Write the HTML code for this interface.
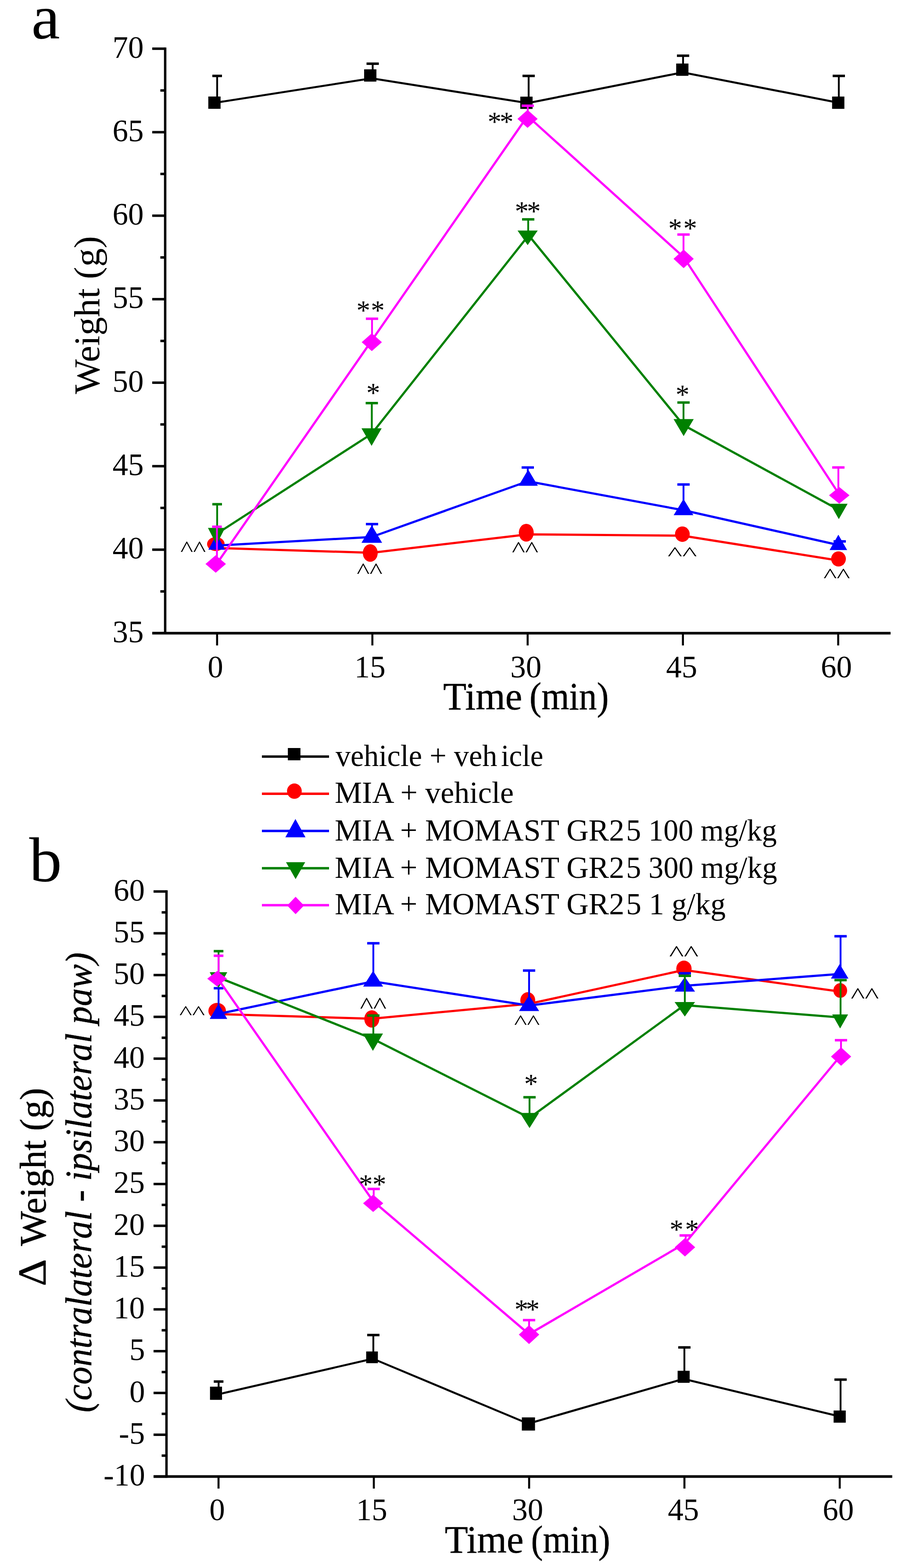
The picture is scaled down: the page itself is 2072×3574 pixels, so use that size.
<!DOCTYPE html>
<html><head><meta charset="utf-8"><title>Weight bearing figure</title>
<style>html,body{margin:0;padding:0;background:#fff;}svg{display:block;}svg{font-family:"Liberation Serif",serif;} text{fill:#000;} text.st{stroke:#000;stroke-width:0.6px;stroke-linejoin:round;}</style>
</head><body>
<svg width="2072" height="3574" viewBox="0 0 2072 3574">
<rect x="0" y="0" width="2072" height="3574" fill="#ffffff"/>
<line x1="376.50" y1="108.30" x2="376.50" y2="1445.90" stroke="#000" stroke-width="5.5" stroke-linecap="butt"/>
<line x1="347.00" y1="1443.20" x2="2030.00" y2="1443.20" stroke="#000" stroke-width="6.0" stroke-linecap="butt"/>
<line x1="347.00" y1="111.00" x2="376.50" y2="111.00" stroke="#000" stroke-width="5.6" stroke-linecap="butt"/>
<line x1="347.00" y1="301.31" x2="376.50" y2="301.31" stroke="#000" stroke-width="5.6" stroke-linecap="butt"/>
<line x1="347.00" y1="491.63" x2="376.50" y2="491.63" stroke="#000" stroke-width="5.6" stroke-linecap="butt"/>
<line x1="347.00" y1="681.94" x2="376.50" y2="681.94" stroke="#000" stroke-width="5.6" stroke-linecap="butt"/>
<line x1="347.00" y1="872.26" x2="376.50" y2="872.26" stroke="#000" stroke-width="5.6" stroke-linecap="butt"/>
<line x1="347.00" y1="1062.57" x2="376.50" y2="1062.57" stroke="#000" stroke-width="5.6" stroke-linecap="butt"/>
<line x1="347.00" y1="1252.89" x2="376.50" y2="1252.89" stroke="#000" stroke-width="5.6" stroke-linecap="butt"/>
<line x1="347.00" y1="1443.20" x2="376.50" y2="1443.20" stroke="#000" stroke-width="5.6" stroke-linecap="butt"/>
<line x1="365.50" y1="206.16" x2="376.50" y2="206.16" stroke="#000" stroke-width="5.6" stroke-linecap="butt"/>
<line x1="365.50" y1="396.47" x2="376.50" y2="396.47" stroke="#000" stroke-width="5.6" stroke-linecap="butt"/>
<line x1="365.50" y1="586.79" x2="376.50" y2="586.79" stroke="#000" stroke-width="5.6" stroke-linecap="butt"/>
<line x1="365.50" y1="777.10" x2="376.50" y2="777.10" stroke="#000" stroke-width="5.6" stroke-linecap="butt"/>
<line x1="365.50" y1="967.41" x2="376.50" y2="967.41" stroke="#000" stroke-width="5.6" stroke-linecap="butt"/>
<line x1="365.50" y1="1157.73" x2="376.50" y2="1157.73" stroke="#000" stroke-width="5.6" stroke-linecap="butt"/>
<line x1="365.50" y1="1348.04" x2="376.50" y2="1348.04" stroke="#000" stroke-width="5.6" stroke-linecap="butt"/>
<line x1="494.85" y1="1443.20" x2="494.85" y2="1471.20" stroke="#000" stroke-width="4.6" stroke-linecap="butt"/>
<line x1="848.79" y1="1443.20" x2="848.79" y2="1471.20" stroke="#000" stroke-width="4.6" stroke-linecap="butt"/>
<line x1="1202.73" y1="1443.20" x2="1202.73" y2="1471.20" stroke="#000" stroke-width="4.6" stroke-linecap="butt"/>
<line x1="1556.67" y1="1443.20" x2="1556.67" y2="1471.20" stroke="#000" stroke-width="4.6" stroke-linecap="butt"/>
<line x1="1910.61" y1="1443.20" x2="1910.61" y2="1471.20" stroke="#000" stroke-width="4.6" stroke-linecap="butt"/>
<text x="256.50" y="131.50" font-size="71">70</text>
<text x="256.50" y="321.81" font-size="71">65</text>
<text x="256.50" y="512.13" font-size="71">60</text>
<text x="256.50" y="702.44" font-size="71">55</text>
<text x="256.50" y="892.76" font-size="71">50</text>
<text x="256.50" y="1083.07" font-size="71">45</text>
<text x="256.50" y="1273.39" font-size="71">40</text>
<text x="256.50" y="1463.70" font-size="71">35</text>
<text x="473.35" y="1543.50" font-size="71">0</text>
<text x="807.79" y="1543.50" font-size="71">15</text>
<text x="1163.23" y="1543.50" font-size="71">30</text>
<text x="1518.17" y="1543.50" font-size="71">45</text>
<text x="1871.11" y="1543.50" font-size="71">60</text>
<polyline points="495.00,233.50 847.00,178.50 1203.00,235.00 1556.00,165.00 1910.50,234.00" fill="none" stroke="#000000" stroke-width="4.6" stroke-linejoin="round"/>
<line x1="495.00" y1="234.00" x2="495.00" y2="173.00" stroke="#000000" stroke-width="4.2" stroke-linecap="butt"/>
<line x1="484.00" y1="173.00" x2="506.00" y2="173.00" stroke="#000000" stroke-width="5.6" stroke-linecap="butt"/>
<line x1="849.50" y1="172.00" x2="849.50" y2="145.20" stroke="#000000" stroke-width="4.2" stroke-linecap="butt"/>
<line x1="835.50" y1="145.20" x2="863.50" y2="145.20" stroke="#000000" stroke-width="5.6" stroke-linecap="butt"/>
<line x1="1205.00" y1="234.30" x2="1205.00" y2="173.00" stroke="#000000" stroke-width="4.2" stroke-linecap="butt"/>
<line x1="1191.00" y1="173.00" x2="1219.00" y2="173.00" stroke="#000000" stroke-width="5.6" stroke-linecap="butt"/>
<line x1="1557.00" y1="158.80" x2="1557.00" y2="127.00" stroke="#000000" stroke-width="4.2" stroke-linecap="butt"/>
<line x1="1543.00" y1="127.00" x2="1571.00" y2="127.00" stroke="#000000" stroke-width="5.6" stroke-linecap="butt"/>
<line x1="1912.00" y1="234.10" x2="1912.00" y2="173.00" stroke="#000000" stroke-width="4.2" stroke-linecap="butt"/>
<line x1="1898.00" y1="173.00" x2="1926.00" y2="173.00" stroke="#000000" stroke-width="5.6" stroke-linecap="butt"/>
<rect x="474.80" y="220.00" width="28" height="28" fill="#000000"/>
<rect x="830.00" y="158.00" width="28" height="28" fill="#000000"/>
<rect x="1186.00" y="220.30" width="28" height="28" fill="#000000"/>
<rect x="1541.30" y="144.80" width="28" height="28" fill="#000000"/>
<rect x="1896.70" y="220.10" width="28" height="28" fill="#000000"/>
<polyline points="495.00,1249.00 847.00,1260.00 1203.00,1218.00 1556.00,1221.00 1911.00,1277.50" fill="none" stroke="#ff0000" stroke-width="5.0" stroke-linejoin="round"/>
<ellipse cx="492.00" cy="1240.00" rx="20" ry="16" fill="#ff0000"/>
<ellipse cx="844.00" cy="1260.50" rx="17" ry="20" fill="#ff0000"/>
<ellipse cx="1199.60" cy="1214.30" rx="17" ry="20.3" fill="#ff0000"/>
<ellipse cx="1555.40" cy="1217.60" rx="16.8" ry="17.6" fill="#ff0000"/>
<ellipse cx="1911.30" cy="1274.00" rx="16.8" ry="17.3" fill="#ff0000"/>
<polyline points="495.00,1243.50 847.00,1224.00 1203.00,1097.00 1558.00,1163.00 1910.00,1242.00" fill="none" stroke="#0000ff" stroke-width="5.0" stroke-linejoin="round"/>
<line x1="848.00" y1="1224.00" x2="848.00" y2="1194.60" stroke="#0000ff" stroke-width="4.2" stroke-linecap="butt"/>
<line x1="834.00" y1="1194.60" x2="862.00" y2="1194.60" stroke="#0000ff" stroke-width="5.6" stroke-linecap="butt"/>
<line x1="1203.00" y1="1095.00" x2="1203.00" y2="1065.60" stroke="#0000ff" stroke-width="4.2" stroke-linecap="butt"/>
<line x1="1189.00" y1="1065.60" x2="1217.00" y2="1065.60" stroke="#0000ff" stroke-width="5.6" stroke-linecap="butt"/>
<line x1="1558.00" y1="1162.00" x2="1558.00" y2="1104.30" stroke="#0000ff" stroke-width="4.2" stroke-linecap="butt"/>
<line x1="1544.00" y1="1104.30" x2="1572.00" y2="1104.30" stroke="#0000ff" stroke-width="5.6" stroke-linecap="butt"/>
<line x1="1914.00" y1="1242.00" x2="1914.00" y2="1234.00" stroke="#0000ff" stroke-width="4.2" stroke-linecap="butt"/>
<line x1="1900.00" y1="1234.00" x2="1928.00" y2="1234.00" stroke="#0000ff" stroke-width="5.6" stroke-linecap="butt"/>
<polygon points="494.00,1217.00 513.00,1253.00 475.00,1253.00" fill="#0000ff"/>
<polygon points="847.50,1197.33 871.00,1237.33 824.00,1237.33" fill="#0000ff"/>
<polygon points="1204.00,1070.33 1226.00,1107.33 1182.00,1107.33" fill="#0000ff"/>
<polygon points="1558.00,1137.33 1580.50,1174.33 1535.50,1174.33" fill="#0000ff"/>
<polygon points="1911.00,1218.67 1931.00,1253.67 1891.00,1253.67" fill="#0000ff"/>
<polyline points="495.00,1216.00 847.00,989.00 1205.00,536.30 1558.00,969.00 1910.00,1161.00" fill="none" stroke="#008000" stroke-width="5.0" stroke-linejoin="round"/>
<line x1="495.00" y1="1216.00" x2="495.00" y2="1149.30" stroke="#008000" stroke-width="4.2" stroke-linecap="butt"/>
<line x1="484.00" y1="1149.30" x2="506.00" y2="1149.30" stroke="#008000" stroke-width="5.6" stroke-linecap="butt"/>
<line x1="847.50" y1="989.70" x2="847.50" y2="918.80" stroke="#008000" stroke-width="4.2" stroke-linecap="butt"/>
<line x1="833.50" y1="918.80" x2="861.50" y2="918.80" stroke="#008000" stroke-width="5.6" stroke-linecap="butt"/>
<line x1="1204.00" y1="536.50" x2="1204.00" y2="500.00" stroke="#008000" stroke-width="4.2" stroke-linecap="butt"/>
<line x1="1190.00" y1="500.00" x2="1218.00" y2="500.00" stroke="#008000" stroke-width="5.6" stroke-linecap="butt"/>
<line x1="1558.00" y1="968.20" x2="1558.00" y2="917.50" stroke="#008000" stroke-width="4.2" stroke-linecap="butt"/>
<line x1="1544.00" y1="917.50" x2="1572.00" y2="917.50" stroke="#008000" stroke-width="5.6" stroke-linecap="butt"/>
<polygon points="474.00,1203.33 513.00,1203.33 493.50,1241.33" fill="#008000"/>
<polygon points="824.00,976.37 870.00,976.37 847.00,1016.37" fill="#008000"/>
<polygon points="1179.70,525.40 1225.70,525.40 1202.70,558.70" fill="#008000"/>
<polygon points="1535.30,955.33 1581.30,955.33 1558.30,993.93" fill="#008000"/>
<polygon points="1892.00,1148.33 1932.00,1148.33 1912.00,1183.33" fill="#008000"/>
<polyline points="493.00,1286.50 847.50,776.00 1202.50,264.50 1558.30,586.00 1913.00,1127.00" fill="none" stroke="#ff00ff" stroke-width="5.0" stroke-linejoin="round"/>
<line x1="494.50" y1="1285.50" x2="494.50" y2="1200.60" stroke="#ff00ff" stroke-width="4.2" stroke-linecap="butt"/>
<line x1="483.50" y1="1200.60" x2="505.50" y2="1200.60" stroke="#ff00ff" stroke-width="5.6" stroke-linecap="butt"/>
<line x1="848.00" y1="780.00" x2="848.00" y2="726.50" stroke="#ff00ff" stroke-width="4.2" stroke-linecap="butt"/>
<line x1="834.00" y1="726.50" x2="862.00" y2="726.50" stroke="#ff00ff" stroke-width="5.6" stroke-linecap="butt"/>
<line x1="1203.00" y1="271.00" x2="1203.00" y2="241.00" stroke="#ff00ff" stroke-width="4.2" stroke-linecap="butt"/>
<line x1="1189.00" y1="241.00" x2="1217.00" y2="241.00" stroke="#ff00ff" stroke-width="5.6" stroke-linecap="butt"/>
<line x1="1558.00" y1="590.00" x2="1558.00" y2="534.60" stroke="#ff00ff" stroke-width="4.2" stroke-linecap="butt"/>
<line x1="1544.00" y1="534.60" x2="1572.00" y2="534.60" stroke="#ff00ff" stroke-width="5.6" stroke-linecap="butt"/>
<line x1="1911.00" y1="1129.00" x2="1911.00" y2="1065.50" stroke="#ff00ff" stroke-width="4.2" stroke-linecap="butt"/>
<line x1="1897.00" y1="1065.50" x2="1925.00" y2="1065.50" stroke="#ff00ff" stroke-width="5.6" stroke-linecap="butt"/>
<polygon points="491.70,1265.50 515.00,1285.50 491.70,1305.50 468.40,1285.50" fill="#ff00ff"/>
<polygon points="847.50,759.65 870.50,780.00 847.50,800.35 824.50,780.00" fill="#ff00ff"/>
<polygon points="1202.50,250.50 1225.50,271.00 1202.50,291.50 1179.50,271.00" fill="#ff00ff"/>
<polygon points="1558.30,568.65 1581.30,590.00 1558.30,611.35 1535.30,590.00" fill="#ff00ff"/>
<polygon points="1913.00,1110.00 1936.35,1129.00 1913.00,1148.00 1889.65,1129.00" fill="#ff00ff"/>
<line x1="379.50" y1="2029.30" x2="379.50" y2="3368.20" stroke="#000" stroke-width="5.5" stroke-linecap="butt"/>
<line x1="350.00" y1="3365.50" x2="2033.80" y2="3365.50" stroke="#000" stroke-width="6.0" stroke-linecap="butt"/>
<line x1="350.00" y1="2032.00" x2="379.50" y2="2032.00" stroke="#000" stroke-width="5.6" stroke-linecap="butt"/>
<line x1="350.00" y1="2127.25" x2="379.50" y2="2127.25" stroke="#000" stroke-width="5.6" stroke-linecap="butt"/>
<line x1="350.00" y1="2222.50" x2="379.50" y2="2222.50" stroke="#000" stroke-width="5.6" stroke-linecap="butt"/>
<line x1="350.00" y1="2317.75" x2="379.50" y2="2317.75" stroke="#000" stroke-width="5.6" stroke-linecap="butt"/>
<line x1="350.00" y1="2413.00" x2="379.50" y2="2413.00" stroke="#000" stroke-width="5.6" stroke-linecap="butt"/>
<line x1="350.00" y1="2508.25" x2="379.50" y2="2508.25" stroke="#000" stroke-width="5.6" stroke-linecap="butt"/>
<line x1="350.00" y1="2603.50" x2="379.50" y2="2603.50" stroke="#000" stroke-width="5.6" stroke-linecap="butt"/>
<line x1="350.00" y1="2698.75" x2="379.50" y2="2698.75" stroke="#000" stroke-width="5.6" stroke-linecap="butt"/>
<line x1="350.00" y1="2794.00" x2="379.50" y2="2794.00" stroke="#000" stroke-width="5.6" stroke-linecap="butt"/>
<line x1="350.00" y1="2889.25" x2="379.50" y2="2889.25" stroke="#000" stroke-width="5.6" stroke-linecap="butt"/>
<line x1="350.00" y1="2984.50" x2="379.50" y2="2984.50" stroke="#000" stroke-width="5.6" stroke-linecap="butt"/>
<line x1="350.00" y1="3079.75" x2="379.50" y2="3079.75" stroke="#000" stroke-width="5.6" stroke-linecap="butt"/>
<line x1="350.00" y1="3175.00" x2="379.50" y2="3175.00" stroke="#000" stroke-width="5.6" stroke-linecap="butt"/>
<line x1="350.00" y1="3270.25" x2="379.50" y2="3270.25" stroke="#000" stroke-width="5.6" stroke-linecap="butt"/>
<line x1="350.00" y1="3365.50" x2="379.50" y2="3365.50" stroke="#000" stroke-width="5.6" stroke-linecap="butt"/>
<line x1="368.50" y1="2079.62" x2="379.50" y2="2079.62" stroke="#000" stroke-width="5.6" stroke-linecap="butt"/>
<line x1="368.50" y1="2174.88" x2="379.50" y2="2174.88" stroke="#000" stroke-width="5.6" stroke-linecap="butt"/>
<line x1="368.50" y1="2270.12" x2="379.50" y2="2270.12" stroke="#000" stroke-width="5.6" stroke-linecap="butt"/>
<line x1="368.50" y1="2365.38" x2="379.50" y2="2365.38" stroke="#000" stroke-width="5.6" stroke-linecap="butt"/>
<line x1="368.50" y1="2460.62" x2="379.50" y2="2460.62" stroke="#000" stroke-width="5.6" stroke-linecap="butt"/>
<line x1="368.50" y1="2555.88" x2="379.50" y2="2555.88" stroke="#000" stroke-width="5.6" stroke-linecap="butt"/>
<line x1="368.50" y1="2651.12" x2="379.50" y2="2651.12" stroke="#000" stroke-width="5.6" stroke-linecap="butt"/>
<line x1="368.50" y1="2746.38" x2="379.50" y2="2746.38" stroke="#000" stroke-width="5.6" stroke-linecap="butt"/>
<line x1="368.50" y1="2841.62" x2="379.50" y2="2841.62" stroke="#000" stroke-width="5.6" stroke-linecap="butt"/>
<line x1="368.50" y1="2936.88" x2="379.50" y2="2936.88" stroke="#000" stroke-width="5.6" stroke-linecap="butt"/>
<line x1="368.50" y1="3032.12" x2="379.50" y2="3032.12" stroke="#000" stroke-width="5.6" stroke-linecap="butt"/>
<line x1="368.50" y1="3127.38" x2="379.50" y2="3127.38" stroke="#000" stroke-width="5.6" stroke-linecap="butt"/>
<line x1="368.50" y1="3222.62" x2="379.50" y2="3222.62" stroke="#000" stroke-width="5.6" stroke-linecap="butt"/>
<line x1="368.50" y1="3317.88" x2="379.50" y2="3317.88" stroke="#000" stroke-width="5.6" stroke-linecap="butt"/>
<line x1="498.10" y1="3365.50" x2="498.10" y2="3393.00" stroke="#000" stroke-width="4.6" stroke-linecap="butt"/>
<line x1="852.10" y1="3365.50" x2="852.10" y2="3393.00" stroke="#000" stroke-width="4.6" stroke-linecap="butt"/>
<line x1="1206.10" y1="3365.50" x2="1206.10" y2="3393.00" stroke="#000" stroke-width="4.6" stroke-linecap="butt"/>
<line x1="1560.10" y1="3365.50" x2="1560.10" y2="3393.00" stroke="#000" stroke-width="4.6" stroke-linecap="butt"/>
<line x1="1914.10" y1="3365.50" x2="1914.10" y2="3393.00" stroke="#000" stroke-width="4.6" stroke-linecap="butt"/>
<text x="259.00" y="2052.50" font-size="71">60</text>
<text x="259.00" y="2147.75" font-size="71">55</text>
<text x="259.00" y="2243.00" font-size="71">50</text>
<text x="259.00" y="2338.25" font-size="71">45</text>
<text x="259.00" y="2433.50" font-size="71">40</text>
<text x="259.00" y="2528.75" font-size="71">35</text>
<text x="259.00" y="2624.00" font-size="71">30</text>
<text x="259.00" y="2719.25" font-size="71">25</text>
<text x="259.00" y="2814.50" font-size="71">20</text>
<text x="259.00" y="2909.75" font-size="71">15</text>
<text x="259.00" y="3005.00" font-size="71">10</text>
<text x="295.00" y="3100.25" font-size="71">5</text>
<text x="295.00" y="3195.50" font-size="71">0</text>
<text x="271.00" y="3290.75" font-size="71">-5</text>
<text x="236.00" y="3386.00" font-size="71">-10</text>
<text x="477.30" y="3465.00" font-size="71">0</text>
<text x="811.80" y="3465.00" font-size="71">15</text>
<text x="1167.30" y="3465.00" font-size="71">30</text>
<text x="1522.30" y="3465.00" font-size="71">45</text>
<text x="1875.30" y="3465.00" font-size="71">60</text>
<polyline points="498.00,3178.00 850.00,3097.00 1204.00,3245.00 1558.00,3143.00 1914.00,3228.50" fill="none" stroke="#000000" stroke-width="4.6" stroke-linejoin="round"/>
<line x1="498.30" y1="3175.70" x2="498.30" y2="3149.00" stroke="#000000" stroke-width="4.2" stroke-linecap="butt"/>
<line x1="487.30" y1="3149.00" x2="509.30" y2="3149.00" stroke="#000000" stroke-width="5.6" stroke-linecap="butt"/>
<line x1="851.00" y1="3093.80" x2="851.00" y2="3043.00" stroke="#000000" stroke-width="4.2" stroke-linecap="butt"/>
<line x1="837.00" y1="3043.00" x2="865.00" y2="3043.00" stroke="#000000" stroke-width="5.6" stroke-linecap="butt"/>
<line x1="1560.00" y1="3138.20" x2="1560.00" y2="3071.20" stroke="#000000" stroke-width="4.2" stroke-linecap="butt"/>
<line x1="1546.00" y1="3071.20" x2="1574.00" y2="3071.20" stroke="#000000" stroke-width="5.6" stroke-linecap="butt"/>
<line x1="1916.00" y1="3228.90" x2="1916.00" y2="3144.60" stroke="#000000" stroke-width="4.2" stroke-linecap="butt"/>
<line x1="1902.00" y1="3144.60" x2="1930.00" y2="3144.60" stroke="#000000" stroke-width="5.6" stroke-linecap="butt"/>
<rect x="478.70" y="3160.70" width="27.4" height="30" fill="#000000"/>
<rect x="834.65" y="3080.45" width="26.7" height="26.7" fill="#000000"/>
<rect x="1189.50" y="3230.70" width="30" height="30" fill="#000000"/>
<rect x="1544.60" y="3124.50" width="27.4" height="27.4" fill="#000000"/>
<rect x="1900.15" y="3215.05" width="27.7" height="27.7" fill="#000000"/>
<polyline points="498.00,2311.50 848.00,2322.00 1206.00,2288.00 1559.00,2211.00 1914.00,2260.00" fill="none" stroke="#ff0000" stroke-width="5.0" stroke-linejoin="round"/>
<ellipse cx="495.00" cy="2304.00" rx="20" ry="18" fill="#ff0000"/>
<ellipse cx="847.50" cy="2322.50" rx="17.2" ry="19.7" fill="#ff0000"/>
<ellipse cx="1203.00" cy="2280.00" rx="17" ry="18.5" fill="#ff0000"/>
<ellipse cx="1559.00" cy="2208.00" rx="17.5" ry="18.5" fill="#ff0000"/>
<ellipse cx="1915.30" cy="2257.70" rx="15.7" ry="16.6" fill="#ff0000"/>
<polyline points="498.00,2311.00 850.50,2237.00 1206.00,2292.00 1560.00,2247.00 1914.00,2220.00" fill="none" stroke="#0000ff" stroke-width="5.0" stroke-linejoin="round"/>
<line x1="498.20" y1="2311.00" x2="498.20" y2="2252.50" stroke="#0000ff" stroke-width="4.2" stroke-linecap="butt"/>
<line x1="487.20" y1="2252.50" x2="509.20" y2="2252.50" stroke="#0000ff" stroke-width="5.6" stroke-linecap="butt"/>
<line x1="851.00" y1="2236.70" x2="851.00" y2="2150.00" stroke="#0000ff" stroke-width="4.2" stroke-linecap="butt"/>
<line x1="837.00" y1="2150.00" x2="865.00" y2="2150.00" stroke="#0000ff" stroke-width="5.6" stroke-linecap="butt"/>
<line x1="1206.00" y1="2292.50" x2="1206.00" y2="2212.20" stroke="#0000ff" stroke-width="4.2" stroke-linecap="butt"/>
<line x1="1192.00" y1="2212.20" x2="1220.00" y2="2212.20" stroke="#0000ff" stroke-width="5.6" stroke-linecap="butt"/>
<line x1="1561.00" y1="2249.00" x2="1561.00" y2="2218.40" stroke="#0000ff" stroke-width="4.2" stroke-linecap="butt"/>
<line x1="1547.00" y1="2218.40" x2="1575.00" y2="2218.40" stroke="#0000ff" stroke-width="5.6" stroke-linecap="butt"/>
<line x1="1916.00" y1="2219.50" x2="1916.00" y2="2134.00" stroke="#0000ff" stroke-width="4.2" stroke-linecap="butt"/>
<line x1="1902.00" y1="2134.00" x2="1930.00" y2="2134.00" stroke="#0000ff" stroke-width="5.6" stroke-linecap="butt"/>
<polygon points="498.00,2288.00 518.00,2322.50 478.00,2322.50" fill="#0000ff"/>
<polygon points="850.50,2212.83 873.25,2248.63 827.75,2248.63" fill="#0000ff"/>
<polygon points="1206.00,2268.50 1229.00,2304.50 1183.00,2304.50" fill="#0000ff"/>
<polygon points="1561.00,2226.67 1584.30,2260.17 1537.70,2260.17" fill="#0000ff"/>
<polygon points="1914.00,2197.30 1934.00,2230.60 1894.00,2230.60" fill="#0000ff"/>
<polyline points="498.00,2228.00 850.00,2368.00 1207.00,2548.00 1560.00,2291.00 1914.00,2319.00" fill="none" stroke="#008000" stroke-width="5.0" stroke-linejoin="round"/>
<line x1="498.20" y1="2228.00" x2="498.20" y2="2168.00" stroke="#008000" stroke-width="4.2" stroke-linecap="butt"/>
<line x1="487.20" y1="2168.00" x2="509.20" y2="2168.00" stroke="#008000" stroke-width="5.6" stroke-linecap="butt"/>
<line x1="851.00" y1="2368.90" x2="851.00" y2="2314.80" stroke="#008000" stroke-width="4.2" stroke-linecap="butt"/>
<line x1="837.00" y1="2314.80" x2="865.00" y2="2314.80" stroke="#008000" stroke-width="5.6" stroke-linecap="butt"/>
<line x1="1207.00" y1="2548.20" x2="1207.00" y2="2501.00" stroke="#008000" stroke-width="4.2" stroke-linecap="butt"/>
<line x1="1193.00" y1="2501.00" x2="1221.00" y2="2501.00" stroke="#008000" stroke-width="5.6" stroke-linecap="butt"/>
<line x1="1561.00" y1="2295.00" x2="1561.00" y2="2224.20" stroke="#008000" stroke-width="4.2" stroke-linecap="butt"/>
<line x1="1547.00" y1="2224.20" x2="1575.00" y2="2224.20" stroke="#008000" stroke-width="5.6" stroke-linecap="butt"/>
<line x1="1916.00" y1="2322.90" x2="1916.00" y2="2234.00" stroke="#008000" stroke-width="4.2" stroke-linecap="butt"/>
<line x1="1902.00" y1="2234.00" x2="1930.00" y2="2234.00" stroke="#008000" stroke-width="5.6" stroke-linecap="butt"/>
<polygon points="478.00,2216.00 518.00,2216.00 498.00,2252.00" fill="#008000"/>
<polygon points="827.00,2355.73 873.00,2355.73 850.00,2395.23" fill="#008000"/>
<polygon points="1185.20,2536.73 1228.80,2536.73 1207.00,2571.13" fill="#008000"/>
<polygon points="1537.70,2284.00 1584.30,2284.00 1561.00,2317.00" fill="#008000"/>
<polygon points="1896.80,2312.23 1933.20,2312.23 1915.00,2344.23" fill="#008000"/>
<polyline points="495.50,2229.00 850.60,2738.00 1205.90,3041.00 1561.30,2834.00 1917.20,2405.00" fill="none" stroke="#ff00ff" stroke-width="5.0" stroke-linejoin="round"/>
<line x1="498.20" y1="2230.80" x2="498.20" y2="2178.50" stroke="#ff00ff" stroke-width="4.2" stroke-linecap="butt"/>
<line x1="487.20" y1="2178.50" x2="509.20" y2="2178.50" stroke="#ff00ff" stroke-width="5.6" stroke-linecap="butt"/>
<line x1="851.80" y1="2742.80" x2="851.80" y2="2710.00" stroke="#ff00ff" stroke-width="4.2" stroke-linecap="butt"/>
<line x1="837.80" y1="2710.00" x2="865.80" y2="2710.00" stroke="#ff00ff" stroke-width="5.6" stroke-linecap="butt"/>
<line x1="1206.00" y1="3042.10" x2="1206.00" y2="3009.00" stroke="#ff00ff" stroke-width="4.2" stroke-linecap="butt"/>
<line x1="1192.00" y1="3009.00" x2="1220.00" y2="3009.00" stroke="#ff00ff" stroke-width="5.6" stroke-linecap="butt"/>
<line x1="1563.00" y1="2843.00" x2="1563.00" y2="2816.00" stroke="#ff00ff" stroke-width="4.2" stroke-linecap="butt"/>
<line x1="1549.00" y1="2816.00" x2="1577.00" y2="2816.00" stroke="#ff00ff" stroke-width="5.6" stroke-linecap="butt"/>
<line x1="1917.00" y1="2408.20" x2="1917.00" y2="2371.00" stroke="#ff00ff" stroke-width="4.2" stroke-linecap="butt"/>
<line x1="1903.00" y1="2371.00" x2="1931.00" y2="2371.00" stroke="#ff00ff" stroke-width="5.6" stroke-linecap="butt"/>
<polygon points="494.90,2213.15 517.40,2230.80 494.90,2248.45 472.40,2230.80" fill="#ff00ff"/>
<polygon points="850.60,2723.10 873.60,2742.80 850.60,2762.50 827.60,2742.80" fill="#ff00ff"/>
<polygon points="1205.90,3020.60 1229.15,3042.10 1205.90,3063.60 1182.65,3042.10" fill="#ff00ff"/>
<polygon points="1561.30,2822.00 1584.60,2843.00 1561.30,2864.00 1538.00,2843.00" fill="#ff00ff"/>
<polygon points="1917.20,2387.20 1940.20,2408.20 1917.20,2429.20 1894.20,2408.20" fill="#ff00ff"/>
<line x1="597.00" y1="1724.60" x2="750.00" y2="1724.60" stroke="#000000" stroke-width="5.5" stroke-linecap="butt"/>
<line x1="597.00" y1="1809.30" x2="750.00" y2="1809.30" stroke="#ff0000" stroke-width="5.5" stroke-linecap="butt"/>
<line x1="597.00" y1="1894.10" x2="750.00" y2="1894.10" stroke="#0000ff" stroke-width="5.5" stroke-linecap="butt"/>
<line x1="597.00" y1="1979.00" x2="750.00" y2="1979.00" stroke="#008000" stroke-width="5.5" stroke-linecap="butt"/>
<line x1="597.00" y1="2063.20" x2="750.00" y2="2063.20" stroke="#ff00ff" stroke-width="5.5" stroke-linecap="butt"/>
<rect x="656.15" y="1705.00" width="28.7" height="28" fill="#000000"/>
<ellipse cx="671.00" cy="1803.30" rx="16.8" ry="17.5" fill="#ff0000"/>
<polygon points="673.40,1866.80 696.40,1908.50 650.40,1908.50" fill="#0000ff"/>
<polygon points="651.90,1965.30 695.70,1965.30 673.80,2003.70" fill="#008000"/>
<polygon points="673.80,2044.05 692.95,2063.90 673.80,2083.75 654.65,2063.90" fill="#ff00ff"/>
<text y="1745.60" font-size="70"><tspan x="764.90" textLength="368.53" lengthAdjust="spacingAndGlyphs">vehicle + veh</tspan><tspan x="1142.05" textLength="96.29" lengthAdjust="spacingAndGlyphs">icle</tspan></text>
<text y="1829.90" font-size="70"><tspan x="762.90" textLength="408.21" lengthAdjust="spacingAndGlyphs">MIA + vehicle</tspan></text>
<text y="1916.10" font-size="70"><tspan x="762.91" textLength="660.13" lengthAdjust="spacingAndGlyphs">MIA + MOMAST GR2</tspan><tspan x="1427.32" textLength="343.36" lengthAdjust="spacingAndGlyphs">5 100 mg/kg</tspan></text>
<text y="2000.50" font-size="70"><tspan x="762.91" textLength="660.13" lengthAdjust="spacingAndGlyphs">MIA + MOMAST GR2</tspan><tspan x="1427.31" textLength="344.27" lengthAdjust="spacingAndGlyphs">5 300 mg/kg</tspan></text>
<text y="2083.60" font-size="70"><tspan x="762.91" textLength="660.13" lengthAdjust="spacingAndGlyphs">MIA + MOMAST GR2</tspan><tspan x="1427.24" textLength="226.89" lengthAdjust="spacingAndGlyphs">5 1 g/kg</tspan></text>
<text x="71.57" y="88.30" font-size="143" textLength="65.14" lengthAdjust="spacingAndGlyphs" >a</text>
<text x="66.40" y="2009.00" font-size="143" textLength="74.53" lengthAdjust="spacingAndGlyphs" >b</text>
<text class="st" y="1617.00" font-size="88"><tspan x="1010.33" textLength="179.75" lengthAdjust="spacingAndGlyphs">Time</tspan><tspan x="1186.82" textLength="200.66" lengthAdjust="spacingAndGlyphs"> (min)</tspan></text>
<text class="st" y="3538.50" font-size="88"><tspan x="1013.63" textLength="179.75" lengthAdjust="spacingAndGlyphs">Time</tspan><tspan x="1190.12" textLength="200.66" lengthAdjust="spacingAndGlyphs"> (min)</tspan></text>
<text x="0" y="0" font-size="83" textLength="360.35" lengthAdjust="spacingAndGlyphs" transform="translate(225.50,898.30) rotate(-90)" >Weight (g)</text>
<text class="st" x="0" y="0" font-size="88" transform="translate(104.00,2927.50) rotate(-90)"><tspan x="-4.19" font-size="92" textLength="62.00" lengthAdjust="spacingAndGlyphs">Δ</tspan><tspan x="66.59" font-size="84" textLength="381.19" lengthAdjust="spacingAndGlyphs"> Weight (g)</tspan></text>
<text x="0" y="0" font-size="85" textLength="1048.98" lengthAdjust="spacingAndGlyphs" transform="translate(207.50,3219.59) rotate(-90)" font-style="italic" class="st">(contralateral - ipsilateral paw)</text>
<text class="nb" x="0" y="0" font-size="60" transform="translate(411.27,1268.23) scale(1.0278,0.8571)" style="font-family:'Liberation Serif',serif">^^</text>
<text class="nb" x="0" y="0" font-size="60" transform="translate(813.16,1318.47) scale(1.0389,0.8607)" style="font-family:'Liberation Serif',serif">^^</text>
<text class="nb" x="0" y="0" font-size="60" transform="translate(1166.83,1268.73) scale(1.0722,0.8571)" style="font-family:'Liberation Serif',serif">^^</text>
<text class="nb" x="0" y="0" font-size="60" transform="translate(1521.81,1276.15) scale(1.1852,0.7321)" style="font-family:'Liberation Serif',serif">^^</text>
<text class="nb" x="0" y="0" font-size="60" transform="translate(1876.92,1326.81) scale(1.0796,0.7643)" style="font-family:'Liberation Serif',serif">^^</text>
<text class="nb" x="0" y="0" font-size="60" transform="translate(408.87,2322.15) scale(1.0333,0.7321)" style="font-family:'Liberation Serif',serif">^^</text>
<text class="nb" x="0" y="0" font-size="60" transform="translate(820.53,2308.66) scale(1.0722,0.8786)" style="font-family:'Liberation Serif',serif">^^</text>
<text class="nb" x="0" y="0" font-size="60" transform="translate(1171.96,2345.15) scale(1.0370,0.7679)" style="font-family:'Liberation Serif',serif">^^</text>
<text class="nb" x="0" y="0" font-size="60" transform="translate(1525.21,2189.83) scale(1.1907,0.8571)" style="font-family:'Liberation Serif',serif">^^</text>
<text class="nb" x="0" y="0" font-size="60" transform="translate(1939.16,2285.99) scale(1.1407,0.8357)" style="font-family:'Liberation Serif',serif">^^</text>
<text class="nb" y="729.25" font-size="63"><tspan x="812.40">*</tspan><tspan x="845.30">*</tspan></text>
<text class="nb" y="299.15" font-size="63"><tspan x="1111.50">*</tspan><tspan x="1139.00">*</tspan></text>
<text class="nb" y="503.05" font-size="63"><tspan x="1173.50">*</tspan><tspan x="1200.90">*</tspan></text>
<text class="nb" y="541.95" font-size="63"><tspan x="1523.20">*</tspan><tspan x="1557.40">*</tspan></text>
<text class="nb" y="2721.40" font-size="63"><tspan x="818.10">*</tspan><tspan x="848.90">*</tspan></text>
<text class="nb" y="3005.75" font-size="63"><tspan x="1172.70">*</tspan><tspan x="1198.40">*</tspan></text>
<text class="nb" y="2824.00" font-size="63"><tspan x="1526.30">*</tspan><tspan x="1561.50">*</tspan></text>
<text class="nb" x="835.05" y="916.60" font-size="63">*</text>
<text class="nb" x="1539.90" y="921.00" font-size="63">*</text>
<text class="nb" x="1194.65" y="2492.05" font-size="63">*</text>
</svg>
</body></html>
